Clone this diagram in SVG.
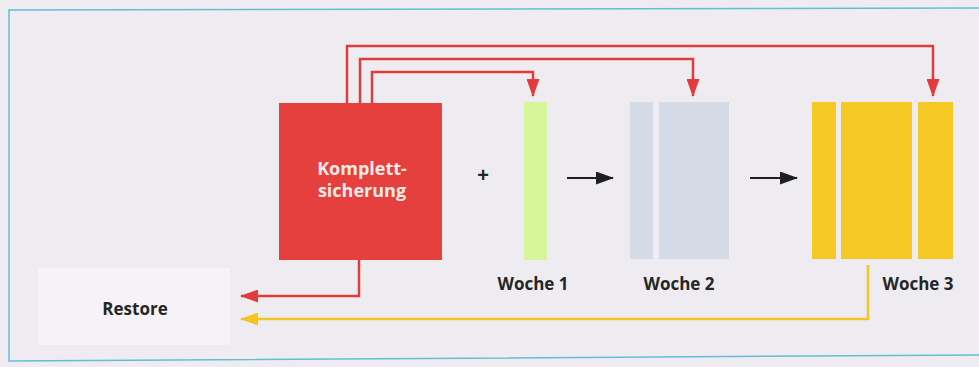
<svg xmlns="http://www.w3.org/2000/svg" width="979" height="367" viewBox="0 0 979 367">
  <style>
    .lbl { font-family: "Open Sans", "Liberation Sans", sans-serif; font-weight: 700; font-size: 17px; fill: #262626; text-anchor: middle; }
    .boxlbl { font-family: "Open Sans", "Liberation Sans", sans-serif; font-weight: 700; font-size: 18px; fill: #fbeae6; text-anchor: middle; }
    .plus { font-family: "Liberation Sans", sans-serif; font-weight: 700; font-size: 20px; fill: #262626; text-anchor: middle; }
    .red { fill: none; stroke: #e13c3c; stroke-width: 2.5; }
    .yel { fill: none; stroke: #f3c523; stroke-width: 2.5; }
    .blk { fill: none; stroke: #1f1f1f; stroke-width: 2; }
    .frame { fill: none; stroke: #62bfd2; stroke-width: 1.5; }
  </style>
  <defs>
    <marker id="arRed" viewBox="0 0 18 13" markerWidth="19" markerHeight="13" refX="17" refY="6.5" markerUnits="userSpaceOnUse" orient="auto">
      <path d="M0,0 L18,6.5 L0,13 z" fill="#e13c3c"/>
    </marker>
    <marker id="arYel" viewBox="0 0 18 13" markerWidth="19" markerHeight="13" refX="17" refY="6.5" markerUnits="userSpaceOnUse" orient="auto">
      <path d="M0,0 L18,6.5 L0,13 z" fill="#f3c523"/>
    </marker>
    <marker id="arBlk" viewBox="0 0 18 13" markerWidth="19" markerHeight="13" refX="17" refY="6.5" markerUnits="userSpaceOnUse" orient="auto">
      <path d="M0,0 L18,6.5 L0,13 z" fill="#1f1f1f"/>
    </marker>
  </defs>

  <rect x="0" y="0" width="979" height="367" fill="#efecf1"/>
  <rect x="38" y="268" width="192" height="77" fill="#f5f3f7"/>
  <path class="frame" d="M979,8 L9,10 L9,361 L979,355"/>

  <g id="komplett">
    <rect x="279" y="103" width="163" height="157" fill="#e5403e"/>
    <text class="boxlbl" x="362" y="175">Komplett-</text>
    <text class="boxlbl" x="362" y="197">sicherung</text>
  </g>

  <g id="plus">
    <text class="plus" x="483" y="182">+</text>
  </g>

  <g id="woche1">
    <rect x="524" y="102" width="23" height="158" fill="#d6f59a"/>
    <text class="lbl" x="533" y="290">Woche 1</text>
  </g>

  <g id="woche2">
    <rect x="630" y="102" width="23" height="157" fill="#d4dae6"/>
    <rect x="659" y="102" width="70" height="157" fill="#d4dae6"/>
    <text class="lbl" x="679" y="290">Woche 2</text>
  </g>

  <g id="woche3">
    <rect x="812" y="102" width="24" height="157" fill="#f6c824"/>
    <rect x="841" y="102" width="71" height="157" fill="#f6c824"/>
    <rect x="918" y="102" width="35" height="157" fill="#f6c824"/>
    <text class="lbl" x="918" y="290">Woche 3</text>
  </g>

  <g id="restore">
    <text class="lbl" x="135" y="315">Restore</text>
  </g>

  <g id="connectors">
    <path class="red" d="M347,103 V46 H933 V96" marker-end="url(#arRed)"/>
    <path class="red" d="M360,103 V59 H693 V96" marker-end="url(#arRed)"/>
    <path class="red" d="M372,103 V72 H533 V96" marker-end="url(#arRed)"/>
    <path class="red" d="M359,260 V296 H241" marker-end="url(#arRed)"/>
    <path class="yel" d="M868,265 V319 H241" marker-end="url(#arYel)"/>
    <path class="blk" d="M567,178 H613" marker-end="url(#arBlk)"/>
    <path class="blk" d="M750,178 H797" marker-end="url(#arBlk)"/>
  </g>
</svg>
